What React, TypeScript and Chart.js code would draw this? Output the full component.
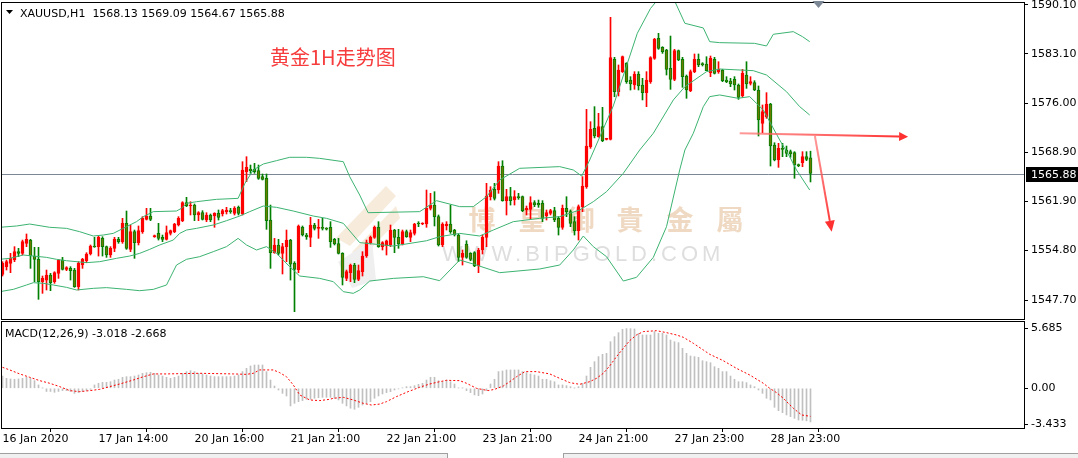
import React, { useEffect, useRef } from 'react';
import { Chart, registerables } from 'chart.js';

Chart.register(...registerables);

// ---------------- text ----------------
const symbolTitle = 'XAUUSD,H1';
const annotationText = '黄金1H走势图';
const watermarkCn = ['博', '皇', '御', '貴', '金', '屬'];
const watermarkEn = 'WWW.BIPGOLD.COM';
const macdTitle = 'MACD(12,26,9) -3.018 -2.668';

// ---------------- axes ----------------
const timeLabels = ['16 Jan 2020', '17 Jan 14:00', '20 Jan 16:00', '21 Jan 21:00', '22 Jan 21:00', '23 Jan 21:00', '24 Jan 21:00', '27 Jan 23:00', '28 Jan 23:00'];
const timeLabelBars = [0, 24, 48, 72, 96, 120, 144, 168, 192];
const priceTicks = [1590.1, 1583.1, 1576.0, 1568.9, 1561.9, 1554.8, 1547.7];
const macdTicks = [5.685, 0, -3.433];
const macdTickLabels = ['5.685', '0.00', '-3.433'];

// ---------------- candles (H1) ----------------
const candleOpen = [
  1551.39, 1552.49, 1552.97, 1553.45, 1554.65, 1554.41, 1555.85, 1556.32, 1554.02, 1553.55,
  1550.34, 1550.57, 1551.29, 1550.34, 1551.53, 1553.45, 1552.11, 1552.25, 1552.01, 1549.62,
  1552.73, 1553.35, 1554.31, 1555.46, 1555.37, 1556.56, 1555.37, 1554.17, 1555.13, 1556.42,
  1556.09, 1558.72, 1554.98, 1557.52, 1555.94, 1557.52, 1559.29, 1559.77, 1556.80, 1557.28,
  1556.71, 1556.42, 1557.28, 1557.52, 1558.48, 1559.10, 1561.69, 1561.21, 1561.35, 1559.92,
  1560.25, 1559.20, 1559.92, 1559.77, 1560.16, 1560.06, 1560.40, 1560.54, 1560.16, 1561.02,
  1560.06, 1566.15, 1566.53, 1566.48, 1566.29, 1565.43, 1565.19, 1559.20, 1554.50, 1555.61,
  1554.41, 1555.37, 1556.32, 1552.97, 1552.01, 1558.15, 1557.04, 1556.71, 1558.48, 1558.00,
  1558.10, 1558.00, 1558.15, 1556.42, 1555.80, 1554.41, 1550.81, 1551.63, 1552.73, 1550.67,
  1551.77, 1554.02, 1555.94, 1556.71, 1558.15, 1555.37, 1555.50, 1555.61, 1557.76, 1556.71,
  1555.75, 1557.52, 1556.71, 1557.28, 1558.72, 1558.62, 1558.62, 1560.88, 1561.35, 1559.68,
  1555.61, 1558.34, 1558.62, 1557.76, 1557.04, 1553.83, 1555.75, 1554.41, 1554.50, 1552.59,
  1554.89, 1556.71, 1562.55, 1563.61, 1563.51, 1566.96, 1561.98, 1562.55, 1562.07, 1562.55,
  1562.55, 1560.64, 1560.73, 1561.69, 1561.59, 1561.59, 1559.77, 1560.16, 1560.54, 1559.44,
  1558.15, 1560.88, 1560.40, 1558.96, 1557.67, 1561.12, 1563.99, 1569.74, 1572.37, 1571.18,
  1572.61, 1570.79, 1570.79, 1582.29, 1577.64, 1580.52, 1581.71, 1579.32, 1578.60, 1580.18,
  1578.60, 1577.50, 1579.08, 1582.43, 1585.31, 1584.01, 1583.63, 1581.00, 1579.42, 1583.54,
  1582.29, 1579.89, 1577.79, 1580.52, 1582.29, 1581.62, 1581.62, 1580.37, 1582.29, 1580.52,
  1580.76, 1579.32, 1579.18, 1579.42, 1578.60, 1577.02, 1580.04, 1578.84, 1578.94, 1577.88,
  1573.09, 1574.05, 1575.87, 1569.98, 1567.82, 1569.50, 1569.26, 1569.02, 1568.88, 1567.10,
  1567.44, 1568.30, 1568.13,
];
const candleHigh = [
  1553.21, 1553.45, 1554.41, 1555.37, 1555.13, 1556.32, 1557.19, 1556.42, 1555.27, 1555.27,
  1551.15, 1552.01, 1551.53, 1551.77, 1553.55, 1553.83, 1552.49, 1552.49, 1552.25, 1553.21,
  1553.69, 1554.50, 1555.61, 1556.71, 1556.90, 1556.80, 1555.46, 1555.37, 1556.71, 1556.71,
  1559.44, 1560.49, 1558.48, 1557.76, 1558.34, 1559.68, 1560.88, 1560.88, 1557.04, 1558.72,
  1557.04, 1558.34, 1557.76, 1558.72, 1559.68, 1561.83, 1562.46, 1561.83, 1561.50, 1560.40,
  1560.54, 1560.25, 1560.06, 1560.25, 1560.64, 1560.73, 1561.02, 1560.88, 1561.12, 1561.21,
  1567.58, 1568.30, 1567.10, 1567.34, 1567.10, 1565.81, 1565.81, 1561.35, 1556.56, 1556.42,
  1555.85, 1557.76, 1556.42, 1553.21, 1558.48, 1558.34, 1557.28, 1559.58, 1558.72, 1559.29,
  1559.44, 1558.10, 1558.96, 1556.56, 1556.56, 1554.50, 1552.01, 1552.87, 1552.97, 1552.73,
  1554.65, 1556.32, 1556.90, 1558.34, 1558.96, 1556.09, 1556.32, 1558.48, 1557.86, 1557.86,
  1557.76, 1557.76, 1557.76, 1558.72, 1558.96, 1558.81, 1563.51, 1563.03, 1563.27, 1559.92,
  1558.81, 1558.96, 1561.35, 1557.86, 1557.19, 1554.89, 1556.22, 1554.50, 1554.65, 1555.13,
  1557.04, 1564.47, 1563.99, 1564.47, 1567.58, 1567.72, 1563.61, 1563.89, 1563.42, 1563.03,
  1562.65, 1561.21, 1562.55, 1561.98, 1562.07, 1561.98, 1560.64, 1560.73, 1561.02, 1559.68,
  1561.35, 1562.55, 1560.64, 1559.68, 1561.36, 1565.43, 1575.10, 1573.33, 1575.49, 1574.53,
  1575.39, 1570.95, 1588.33, 1582.58, 1581.48, 1582.77, 1581.81, 1579.80, 1580.52, 1580.52,
  1579.56, 1580.52, 1582.67, 1585.31, 1586.03, 1584.11, 1583.73, 1585.64, 1583.73, 1583.63,
  1582.58, 1580.04, 1580.76, 1583.06, 1583.06, 1581.81, 1582.67, 1582.77, 1582.58, 1581.95,
  1580.85, 1579.80, 1579.56, 1579.80, 1578.75, 1580.85, 1581.95, 1579.80, 1579.22, 1578.46,
  1575.73, 1577.50, 1575.97, 1570.31, 1570.22, 1570.22, 1569.83, 1569.26, 1569.02, 1567.25,
  1569.02, 1569.02, 1569.09,
];
const candleLow = [
  1551.15, 1552.01, 1551.63, 1553.21, 1553.93, 1554.17, 1555.37, 1552.25, 1550.34, 1547.80,
  1548.66, 1549.14, 1549.04, 1550.10, 1550.81, 1552.01, 1551.92, 1550.57, 1549.52, 1549.14,
  1552.25, 1553.07, 1554.17, 1555.27, 1554.02, 1554.02, 1553.83, 1553.83, 1554.65, 1555.85,
  1555.85, 1554.98, 1554.65, 1553.69, 1555.61, 1557.28, 1559.20, 1559.10, 1556.71, 1556.32,
  1556.09, 1556.32, 1557.04, 1557.38, 1558.34, 1558.96, 1561.12, 1559.92, 1559.10, 1559.10,
  1559.20, 1558.96, 1558.96, 1558.15, 1559.20, 1559.77, 1560.06, 1560.16, 1559.92, 1559.92,
  1559.92, 1564.71, 1565.91, 1565.91, 1565.04, 1564.95, 1557.86, 1552.25, 1554.41, 1554.17,
  1551.44, 1553.21, 1550.57, 1546.02, 1551.63, 1556.90, 1556.42, 1555.37, 1557.76, 1556.56,
  1557.76, 1557.76, 1555.27, 1555.61, 1554.31, 1549.86, 1550.48, 1550.34, 1550.19, 1550.48,
  1551.15, 1553.83, 1555.75, 1556.56, 1555.27, 1554.89, 1554.17, 1555.37, 1554.50, 1555.13,
  1555.61, 1556.71, 1556.09, 1557.04, 1558.24, 1558.52, 1558.15, 1560.64, 1558.34, 1555.46,
  1555.37, 1557.76, 1557.28, 1556.90, 1553.21, 1552.73, 1553.69, 1553.35, 1552.49, 1551.63,
  1554.31, 1555.37, 1562.07, 1562.07, 1563.03, 1561.90, 1559.92, 1561.35, 1561.35, 1562.17,
  1560.40, 1559.92, 1559.29, 1561.12, 1561.02, 1558.96, 1559.20, 1559.92, 1558.96, 1557.04,
  1557.86, 1559.68, 1558.24, 1557.04, 1556.32, 1560.40, 1563.75, 1569.50, 1571.00, 1571.10,
  1570.46, 1570.70, 1570.70, 1576.92, 1577.02, 1580.40, 1578.84, 1577.88, 1577.98, 1577.88,
  1576.45, 1575.49, 1578.84, 1582.29, 1583.73, 1583.15, 1580.04, 1577.98, 1579.22, 1582.10,
  1578.27, 1576.69, 1577.64, 1580.37, 1581.24, 1581.33, 1580.66, 1579.80, 1580.18, 1580.28,
  1579.08, 1578.94, 1578.36, 1577.88, 1576.54, 1576.83, 1578.12, 1578.60, 1577.79, 1571.27,
  1571.75, 1573.81, 1566.96, 1567.70, 1566.77, 1568.30, 1568.30, 1568.21, 1565.19, 1566.86,
  1566.86, 1567.73, 1564.67,
];
const candleClose = [
  1552.97, 1553.21, 1553.69, 1554.65, 1554.41, 1556.09, 1556.42, 1554.02, 1553.55, 1550.34,
  1550.81, 1551.29, 1550.19, 1551.63, 1553.45, 1552.11, 1552.35, 1551.92, 1549.62, 1552.97,
  1553.55, 1554.31, 1555.46, 1555.32, 1556.71, 1555.37, 1554.17, 1555.13, 1556.42, 1556.09,
  1558.72, 1555.13, 1557.52, 1555.94, 1557.67, 1559.44, 1559.77, 1559.29, 1556.90, 1556.56,
  1556.42, 1557.38, 1557.67, 1558.62, 1559.44, 1561.69, 1561.21, 1561.35, 1559.92, 1560.25,
  1559.29, 1559.92, 1559.20, 1560.16, 1559.58, 1560.54, 1560.64, 1560.40, 1560.88, 1560.16,
  1566.39, 1566.77, 1566.29, 1566.15, 1565.19, 1565.04, 1559.10, 1554.50, 1555.61, 1554.41,
  1555.37, 1556.32, 1552.87, 1552.11, 1558.34, 1557.04, 1556.80, 1558.48, 1558.00, 1558.15,
  1558.00, 1557.90, 1556.09, 1555.75, 1554.41, 1550.96, 1551.77, 1552.73, 1550.67, 1551.92,
  1554.02, 1555.94, 1556.71, 1558.15, 1555.37, 1555.94, 1556.22, 1557.76, 1556.71, 1555.75,
  1557.52, 1556.80, 1557.38, 1558.62, 1558.62, 1558.72, 1560.88, 1561.35, 1559.68, 1555.61,
  1558.62, 1558.62, 1557.52, 1557.04, 1553.83, 1554.41, 1553.83, 1553.55, 1552.59, 1554.89,
  1556.71, 1562.65, 1563.51, 1562.31, 1566.96, 1561.98, 1562.55, 1561.98, 1562.55, 1562.41,
  1560.54, 1560.88, 1561.69, 1561.35, 1561.35, 1559.44, 1560.25, 1560.54, 1559.20, 1558.15,
  1560.88, 1560.40, 1558.72, 1557.67, 1561.12, 1564.09, 1569.83, 1572.23, 1571.27, 1572.61,
  1570.60, 1570.89, 1582.53, 1577.64, 1580.76, 1582.67, 1579.08, 1578.75, 1580.18, 1578.46,
  1577.50, 1579.32, 1582.53, 1585.16, 1583.87, 1583.39, 1580.85, 1579.42, 1583.54, 1582.19,
  1579.80, 1577.88, 1580.52, 1582.29, 1581.48, 1581.52, 1580.66, 1582.43, 1580.28, 1580.85,
  1579.22, 1579.08, 1578.75, 1578.60, 1576.83, 1580.28, 1578.75, 1579.08, 1577.88, 1573.57,
  1574.77, 1575.87, 1569.83, 1567.82, 1569.50, 1569.36, 1568.78, 1568.69, 1567.10, 1567.01,
  1568.30, 1567.92, 1565.88,
];

// ---------------- Bollinger bands, [bar, price] ----------------
const upperBand = [
  [-0.67, 1558.15], [3.5, 1558.34], [6.8, 1558.62], [11.8, 1558.15], [16, 1558.0], [19.3, 1557.52],
  [22.7, 1556.9], [25.2, 1557.04], [27.7, 1557.28], [31, 1558.24], [33.5, 1558.96], [35.2, 1559.68],
  [37.7, 1560.4], [43.5, 1560.49], [44.75, 1560.88], [46, 1561.59], [48.5, 1561.83], [53.5, 1562.17],
  [58.9, 1562.31], [60.6, 1564.47], [62.7, 1566.39], [65.2, 1567.25], [68.5, 1567.73], [71.8, 1568.21],
  [76, 1568.21], [79.3, 1568.06], [85.2, 1567.58], [86.8, 1565.43], [89.3, 1562.79], [91.4, 1560.25],
  [104.3, 1560.4], [108.5, 1561.98], [114.3, 1561.12], [117.7, 1561.12], [121, 1562.55], [124.3, 1564.95],
  [129.3, 1566.63], [139.3, 1566.87], [142.7, 1566.39], [144.8, 1565.52], [146.8, 1567.82], [152.7, 1575.6],
  [158.7, 1586.03], [162, 1589.6], [164, 1591.0], [166, 1591.4], [168.1, 1590.6], [170.6, 1587.47],
  [175.2, 1586.8], [176.8, 1584.83], [179.3, 1584.69], [188, 1584.59], [191, 1584.21], [192.7, 1585.89],
  [197.7, 1586.27], [200, 1585.55], [201.8, 1584.83],
];
const middleBand = [
  [-0.67, 1553.55], [1.8, 1553.69], [5.2, 1554.17], [7.7, 1554.02], [11, 1553.83], [13.5, 1553.55],
  [16, 1553.35], [21, 1553.07], [24.3, 1553.21], [28.5, 1553.69], [31.8, 1554.02], [34.3, 1554.41],
  [36.8, 1554.98], [39.3, 1555.61], [42.7, 1556.32], [44.3, 1557.28], [46, 1557.76], [48.5, 1558.0],
  [52.7, 1558.48], [56, 1559.1], [59.3, 1559.77], [61.8, 1560.4], [65.2, 1561.21], [68.5, 1561.02],
  [72.7, 1560.49], [77.7, 1559.77], [81, 1559.44], [85.2, 1558.72], [89.3, 1555.95], [97.7, 1555.46],
  [106, 1556.22], [109.3, 1556.8], [114.3, 1557.28], [119.3, 1556.9], [122.7, 1557.76], [127.7, 1558.96],
  [134.3, 1559.44], [139.3, 1559.68], [144.3, 1560.64], [147.7, 1561.83], [151, 1563.27], [155.2, 1565.91],
  [159.3, 1569.26], [162.7, 1571.66], [167.7, 1576.45], [170.6, 1578.36], [176, 1580.52], [179.3, 1580.9],
  [187.7, 1580.66], [191, 1580.04], [196, 1577.64], [199.3, 1575.49], [201.8, 1574.29],
];
const lowerBand = [
  [-0.67, 1548.9], [2.7, 1549.23], [6, 1549.86], [7.7, 1550.19], [10.2, 1550.1], [12.7, 1549.86],
  [16, 1549.52], [18.5, 1549.14], [22.7, 1549.38], [26, 1549.48], [31, 1549.23], [34.3, 1549.04],
  [37.7, 1549.23], [41, 1549.86], [43.5, 1552.73], [46, 1553.55], [49.3, 1553.93], [52.7, 1554.65],
  [56, 1555.37], [58.9, 1556.56], [61, 1555.61], [63.5, 1554.89], [66, 1555.37], [68.5, 1554.41],
  [71.8, 1552.49], [74.3, 1551.15], [79.3, 1550.81], [82.7, 1550.34], [85.2, 1548.9], [87.7, 1548.66],
  [89.3, 1549.14], [91.8, 1550.43], [97.7, 1550.81], [105.2, 1551.05], [109.3, 1550.48], [114.3, 1553.45],
  [117.7, 1552.87], [124.3, 1551.63], [134.3, 1552.16], [139.3, 1552.73], [142.7, 1554.89], [145.2, 1556.9],
  [147.7, 1555.37], [151, 1553.93], [155.2, 1550.43], [158.5, 1550.96], [162.7, 1553.83], [166, 1558.24],
  [169.3, 1566.39], [170.6, 1569.26], [172.7, 1571.66], [175.2, 1575.49], [176.8, 1576.93], [179.3, 1577.17],
  [183.9, 1576.69], [186.8, 1576.93], [188.5, 1575.97], [190.2, 1575.01], [191.8, 1573.33], [194.3, 1570.7],
  [196.8, 1568.3], [198.5, 1566.39], [201.8, 1563.51],
];

// ---------------- MACD ----------------
const macdHist = [
  1.17, 0.95, 0.89, 0.86, 0.89, 0.95, 1.05, 0.95, 0.73, 0.32,
  0.02, -0.3, -0.3, -0.38, -0.3, -0.22, -0.22, -0.3, -0.48, -0.41,
  -0.3, -0.22, -0.1, 0.32, 0.48, 0.57, 0.57, 0.63, 0.79, 0.86,
  1.05, 1.11, 1.11, 1.17, 1.27, 1.43, 1.49, 1.52, 1.43, 1.27,
  1.17, 1.05, 0.95, 1.05, 1.17, 1.43, 1.59, 1.68, 1.59, 1.43,
  1.37, 1.27, 1.17, 1.11, 1.11, 1.11, 1.11, 1.11, 1.17, 1.27,
  1.59, 1.9, 2.13, 2.22, 2.22, 2.22, 1.59, 0.79, 0.22, -0.16,
  -0.48, -0.73, -1.68, -1.43, -1.27, -1.17, -1.05, -1.05, -0.95, -0.89,
  -0.86, -0.86, -0.86, -0.95, -1.11, -1.43, -1.68, -1.9, -2.0, -1.81,
  -1.59, -1.43, -1.27, -0.95, -0.73, -0.54, -0.41, -0.32, -0.16, -0.06,
  0.03, 0.16, 0.16, 0.25, 0.38, 0.48, 0.79, 1.05, 1.05, 0.73,
  0.63, 0.79, 0.63, 0.41, 0.03, 0.02, -0.22, -0.41, -0.63, -0.7,
  -0.54, -0.22, 0.41, 0.86, 1.59, 1.65, 1.75, 1.75, 1.75, 1.75,
  1.59, 1.49, 1.37, 1.27, 1.17, 0.86, 0.86, 0.73, 0.63, 0.32,
  0.32, 0.25, 0.16, 0.02, 0.16, 0.48, 1.17, 2.0, 2.54, 3.02,
  3.24, 3.33, 4.44, 4.92, 5.3, 5.62, 5.685, 5.68, 5.65, 5.24,
  5.08, 5.08, 5.08, 5.4, 5.24, 5.24, 5.08, 4.6, 4.44, 4.35,
  3.81, 3.33, 3.08, 3.02, 2.95, 2.63, 2.54, 2.44, 2.06, 1.9,
  1.59, 1.59, 1.17, 0.86, 0.63, 0.63, 0.54, 0.32, 0.16, -0.16,
  -0.48, -0.95, -1.11, -1.81, -2.13, -2.32, -2.54, -2.7, -2.86, -3.02,
  -3.05, -3.1, -3.2,
];
const macdSignal = [
  [0, 2.0], [1.8, 1.75], [4.3, 1.37], [6.8, 1.05], [9.3, 0.73], [11.8, 0.48], [14.3, 0.16], [16.8, -0.22],
  [19.3, -0.32], [21.8, -0.22], [24.3, -0.1], [26.8, 0.16], [29.3, 0.41], [32.7, 0.79], [35.2, 1.1], [37.7, 1.37],
  [41, 1.37], [49.3, 1.43], [57.7, 1.37], [61, 1.33], [62.7, 1.43], [64.3, 1.75], [67.7, 1.75], [69.3, 1.49],
  [71, 1.1], [72.7, 0.32], [74.3, -0.63], [76.8, -1.11], [79.3, -1.17], [81.8, -1.05], [82.7, -0.95], [85.2, -0.86],
  [87.7, -1.11], [90.2, -1.43], [92.2, -1.59], [94.3, -1.5], [96, -1.27], [98.5, -0.79], [101.4, -0.32], [104.3, 0.1],
  [106.8, 0.41], [109.3, 0.63], [111, 0.76], [114.3, 0.73], [116, 0.48], [118.5, 0.0], [121.4, -0.22], [123, -0.1],
  [125.2, 0.22], [126.8, 0.63], [128.5, 1.1], [130.6, 1.59], [133.5, 1.59], [136.8, 1.37], [139.3, 0.95], [141.8, 0.54],
  [144.3, 0.38], [146.8, 0.63], [148.5, 0.95], [150.2, 1.43], [151.8, 2.13], [153.5, 3.02], [155.2, 3.81], [156.8, 4.54],
  [158.5, 5.08], [160.2, 5.4], [163.5, 5.49], [166, 5.3], [168.5, 5.08], [170.2, 4.86], [172.7, 4.29], [175.2, 3.65],
  [176.8, 3.24], [180.2, 2.63], [183.5, 1.9], [186.8, 1.27], [190.2, 0.48], [191.8, 0.0], [193.5, -0.41], [195.2, -0.95],
  [197.7, -1.9], [199.8, -2.54], [202, -2.67],
];

// hand-drawn trend arrows, [bar, price]
const trendArrows = [
  { from: [184.3, 1571.66], to: [226.4, 1571.17], width: 2, head: 9, half: 4.5 },
  { from: [203.1, 1571.27], to: [207.3, 1557.52], width: 2, head: 11, half: 5 },
];

// ---------------- view ----------------
const X_MIN = -0.375;
const X_MAX = 255.375;
const Y_MIN = 1544.972;
const Y_MAX = 1590.531;
const M_MIN = -3.78;
const M_MAX = 6.41;

const FONT = '"DejaVu Sans", Verdana, sans-serif';
const UP = '#ff0000';
const DOWN_LINE = '#008000';
const DOWN_FILL = '#6b7a00';
const BAND = '#3cb371';

const bars = candleOpen.map((_, i) => i);
const isUp = (i: number) => candleClose[i] >= candleOpen[i];

function noPad(s: any) {
  s.paddingTop = 0;
  s.paddingBottom = 0;
  s.paddingLeft = 0;
  s.paddingRight = 0;
}

function drawArrow(ctx: CanvasRenderingContext2D, x1: number, y1: number, x2: number, y2: number, lw: number, headLen: number, half: number) {
  const ang = Math.atan2(y2 - y1, x2 - x1);
  const bx = x2 - Math.cos(ang) * headLen;
  const by = y2 - Math.sin(ang) * headLen;
  const g = ctx.createLinearGradient(x1, y1, x2, y2);
  g.addColorStop(0, 'rgba(255,110,110,0.7)');
  g.addColorStop(1, 'rgba(255,45,45,1)');
  ctx.strokeStyle = g;
  ctx.lineWidth = lw;
  ctx.beginPath();
  ctx.moveTo(x1, y1);
  ctx.lineTo(bx, by);
  ctx.stroke();
  ctx.fillStyle = '#ff3030';
  ctx.beginPath();
  ctx.moveTo(x2, y2);
  ctx.lineTo(bx + Math.sin(ang) * half, by - Math.cos(ang) * half);
  ctx.lineTo(bx - Math.sin(ang) * half, by + Math.cos(ang) * half);
  ctx.closePath();
  ctx.fill();
}

function poly(ctx: CanvasRenderingContext2D, pts: number[][], color: string) {
  ctx.fillStyle = color;
  ctx.beginPath();
  pts.forEach(([px, py], k) => (k === 0 ? ctx.moveTo(px, py) : ctx.lineTo(px, py)));
  ctx.closePath();
  ctx.fill();
}

const mainDecor = {
  id: 'mainDecor',
  beforeDatasetsDraw(chart: any) {
    const { ctx, chartArea: a, scales } = chart;
    const y = scales.y;
    ctx.save();
    // watermark logo (faint stripes)
    poly(ctx, [[336, 238], [386, 186], [396, 196], [350, 246]], '#f7ebdc');
    poly(ctx, [[352, 252], [396, 206], [400, 218], [362, 258]], '#f7ebdc');
    poly(ctx, [[338, 262], [372, 240], [376, 280], [352, 288]], '#efefef');
    // watermark text
    ctx.fillStyle = '#efd9c2';
    ctx.font = 'bold 27px "Noto Sans CJK TC"';
    ctx.textAlign = 'center';
    ctx.textBaseline = 'middle';
    const cnX = [482, 532, 581, 630, 680, 730];
    watermarkCn.forEach((c, k) => ctx.fillText(c, cnX[k], 220));
    ctx.fillStyle = '#dedede';
    ctx.font = '22px "Liberation Sans"';
    ctx.textAlign = 'left';
    (ctx as any).letterSpacing = '4px';
    ctx.fillText(watermarkEn, 442, 255);
    (ctx as any).letterSpacing = '0px';
    // current price line
    const last = candleClose[candleClose.length - 1];
    const py = Math.round(y.getPixelForValue(last)) + 0.5;
    ctx.strokeStyle = '#7b8794';
    ctx.lineWidth = 1;
    ctx.beginPath();
    ctx.moveTo(a.left, py);
    ctx.lineTo(a.right, py);
    ctx.stroke();
    ctx.restore();
  },
  afterDatasetsDraw(chart: any) {
    const { ctx, scales } = chart;
    const { x, y } = scales;
    ctx.save();
    trendArrows.forEach((ar) => {
      drawArrow(ctx, x.getPixelForValue(ar.from[0]), y.getPixelForValue(ar.from[1]), x.getPixelForValue(ar.to[0]), y.getPixelForValue(ar.to[1]), ar.width, ar.head, ar.half);
    });
    ctx.restore();
  },
  afterDraw(chart: any) {
    const { ctx, chartArea: a, scales } = chart;
    const { x, y } = scales;
    ctx.save();
    ctx.strokeStyle = '#000';
    ctx.lineWidth = 1;
    ctx.strokeRect(a.left + 0.5, a.top + 0.5, a.right - a.left, a.bottom - a.top);
    const n = candleClose.length - 1;
    ctx.fillStyle = '#000';
    ctx.beginPath();
    ctx.moveTo(6, 10);
    ctx.lineTo(13, 10);
    ctx.lineTo(9.5, 14);
    ctx.closePath();
    ctx.fill();
    ctx.font = `11px ${FONT}`;
    ctx.textAlign = 'left';
    ctx.textBaseline = 'alphabetic';
    const t = `${symbolTitle}  ${candleOpen[n].toFixed(2)} ${candleHigh[n].toFixed(2)} ${candleLow[n].toFixed(2)} ${candleClose[n].toFixed(2)}`;
    ctx.fillText(t, 20, 17);
    ctx.fillStyle = '#f63c3c';
    ctx.font = '20px "Noto Sans CJK SC"';
    ctx.textBaseline = 'middle';
    ctx.fillText(annotationText, 270, 57);
    const last = candleClose[n];
    const py = Math.round(y.getPixelForValue(last));
    ctx.fillStyle = '#000';
    ctx.fillRect(a.right + 2, py - 7, 1078 - a.right - 2, 15);
    ctx.fillStyle = '#fff';
    ctx.font = `11px ${FONT}`;
    ctx.textBaseline = 'middle';
    ctx.fillText(last.toFixed(2), a.right + 7, py + 1);
    const cx = Math.round(x.getPixelForValue(n + 1.75)) + 0.5;
    ctx.fillStyle = '#7c8796';
    ctx.beginPath();
    ctx.moveTo(cx - 6, 1);
    ctx.lineTo(cx + 6, 1);
    ctx.lineTo(cx, 8);
    ctx.closePath();
    ctx.fill();
    ctx.restore();
  },
};

const macdDecor = {
  id: 'macdDecor',
  afterDraw(chart: any) {
    const { ctx, chartArea: a } = chart;
    ctx.save();
    ctx.strokeStyle = '#000';
    ctx.lineWidth = 1;
    ctx.strokeRect(a.left + 0.5, a.top + 0.5, a.right - a.left, a.bottom - a.top);
    ctx.fillStyle = '#000';
    ctx.font = `11px ${FONT}`;
    ctx.textAlign = 'left';
    ctx.textBaseline = 'alphabetic';
    ctx.fillText(macdTitle, 5, 17);
    ctx.restore();
  },
};

const tickFont = { family: FONT, size: 11 };

export default function App() {
  const mainRef = useRef<HTMLCanvasElement>(null);
  const macdRef = useRef<HTMLCanvasElement>(null);

  useEffect(() => {
    const bandDs = (pts: number[][]) => ({
      type: 'line',
      data: pts.map(([bx, v]) => ({ x: bx, y: v })),
      borderColor: BAND,
      borderWidth: 1,
      pointRadius: 0,
      order: 0,
    });
    const main = new Chart(mainRef.current as HTMLCanvasElement, {
      type: 'bar',
      data: {
        datasets: [
          bandDs(upperBand) as any,
          bandDs(middleBand) as any,
          bandDs(lowerBand) as any,
          {
            type: 'bar',
            data: bars.map((i) => ({ x: i, y: [candleOpen[i], candleClose[i]] })),
            backgroundColor: bars.map((i) => (isUp(i) ? UP : DOWN_FILL)),
            borderColor: bars.map((i) => (isUp(i) ? UP : DOWN_LINE)),
            borderWidth: 1,
            borderSkipped: false,
            barThickness: 3,
            minBarLength: 1,
            grouped: false,
            order: 1,
          } as any,
          {
            type: 'bar',
            data: bars.map((i) => ({ x: i, y: [candleLow[i], candleHigh[i]] })),
            backgroundColor: bars.map((i) => (isUp(i) ? UP : DOWN_LINE)),
            borderWidth: 0,
            barThickness: 1,
            grouped: false,
            order: 2,
          } as any,
        ],
      },
      options: {
        responsive: false,
        animation: false,
        devicePixelRatio: 1,
        events: [],
        layout: { padding: { left: 1, top: 2, right: 0, bottom: 1 }, autoPadding: false } as any,
        plugins: { legend: { display: false }, tooltip: { enabled: false } },
        scales: {
          x: { type: 'linear', min: X_MIN, max: X_MAX, display: false, offset: false, afterFit: noPad } as any,
          y: {
            type: 'linear',
            position: 'right',
            min: Y_MIN,
            max: Y_MAX,
            afterFit: (s: any) => { s.width = 54; noPad(s); },
            afterBuildTicks: (s: any) => { s.ticks = priceTicks.map((v) => ({ value: v })); },
            ticks: { callback: (v: any) => Number(v).toFixed(2), font: tickFont, color: '#000', padding: 3, autoSkip: false },
            grid: { drawOnChartArea: false, drawTicks: true, tickLength: 4, color: '#000' },
            border: { display: false },
          } as any,
        },
      },
      plugins: [mainDecor],
    });

    const macd = new Chart(macdRef.current as HTMLCanvasElement, {
      type: 'bar',
      data: {
        datasets: [
          {
            type: 'line',
            data: macdSignal.map(([bx, v]) => ({ x: bx, y: v })),
            borderColor: '#ff0000',
            borderWidth: 1,
            borderDash: [2, 2],
            pointRadius: 0,
            order: 0,
          } as any,
          {
            type: 'bar',
            data: macdHist.map((v, i) => ({ x: i, y: v })),
            backgroundColor: '#c0c0c0',
            borderWidth: 0,
            barThickness: 1,
            grouped: false,
            order: 1,
          } as any,
        ],
      },
      options: {
        responsive: false,
        animation: false,
        devicePixelRatio: 1,
        events: [],
        layout: { padding: { left: 1, top: 1, right: 0, bottom: 0 }, autoPadding: false } as any,
        plugins: { legend: { display: false }, tooltip: { enabled: false } },
        scales: {
          x: {
            type: 'linear',
            min: X_MIN,
            max: X_MAX,
            offset: false,
            position: 'bottom',
            afterFit: (s: any) => { s.height = 30; noPad(s); },
            afterBuildTicks: (s: any) => { s.ticks = timeLabelBars.map((v) => ({ value: v })); },
            ticks: {
              align: 'start',
              maxRotation: 0,
              autoSkip: false,
              padding: 1,
              font: tickFont,
              color: '#000',
              callback: (_v: any, idx: number) => timeLabels[idx],
            },
            grid: { drawOnChartArea: false, drawTicks: true, tickLength: 4, color: '#000' },
            border: { display: false },
          } as any,
          y: {
            type: 'linear',
            position: 'right',
            min: M_MIN,
            max: M_MAX,
            afterFit: (s: any) => { s.width = 54; noPad(s); },
            afterBuildTicks: (s: any) => { s.ticks = macdTicks.map((v) => ({ value: v })); },
            ticks: { callback: (_v: any, idx: number) => macdTickLabels[idx], font: tickFont, color: '#000', padding: 3, autoSkip: false },
            grid: { drawOnChartArea: false, drawTicks: true, tickLength: 4, color: '#000' },
            border: { display: false },
          } as any,
        },
      },
      plugins: [macdDecor],
    });

    return () => {
      main.destroy();
      macd.destroy();
    };
  }, []);

  return (
    <div style={{ position: 'absolute', left: 0, top: 0, width: 1078, height: 458, background: '#fff', overflow: 'hidden' }}>
      <canvas ref={mainRef} width={1078} height={320} style={{ position: 'absolute', left: 0, top: 0 }} />
      <canvas ref={macdRef} width={1078} height={138} style={{ position: 'absolute', left: 0, top: 320 }} />
      <div style={{ position: 'absolute', left: 0, top: 453, width: 447, height: 6, background: '#f0f0f0', borderTop: '1px solid #a0a0a0', borderRight: '1px solid #a0a0a0' }} />
      <div style={{ position: 'absolute', left: 563, top: 453, width: 515, height: 6, background: '#f0f0f0', borderTop: '1px solid #a0a0a0', borderLeft: '1px solid #a0a0a0' }} />
    </div>
  );
}
